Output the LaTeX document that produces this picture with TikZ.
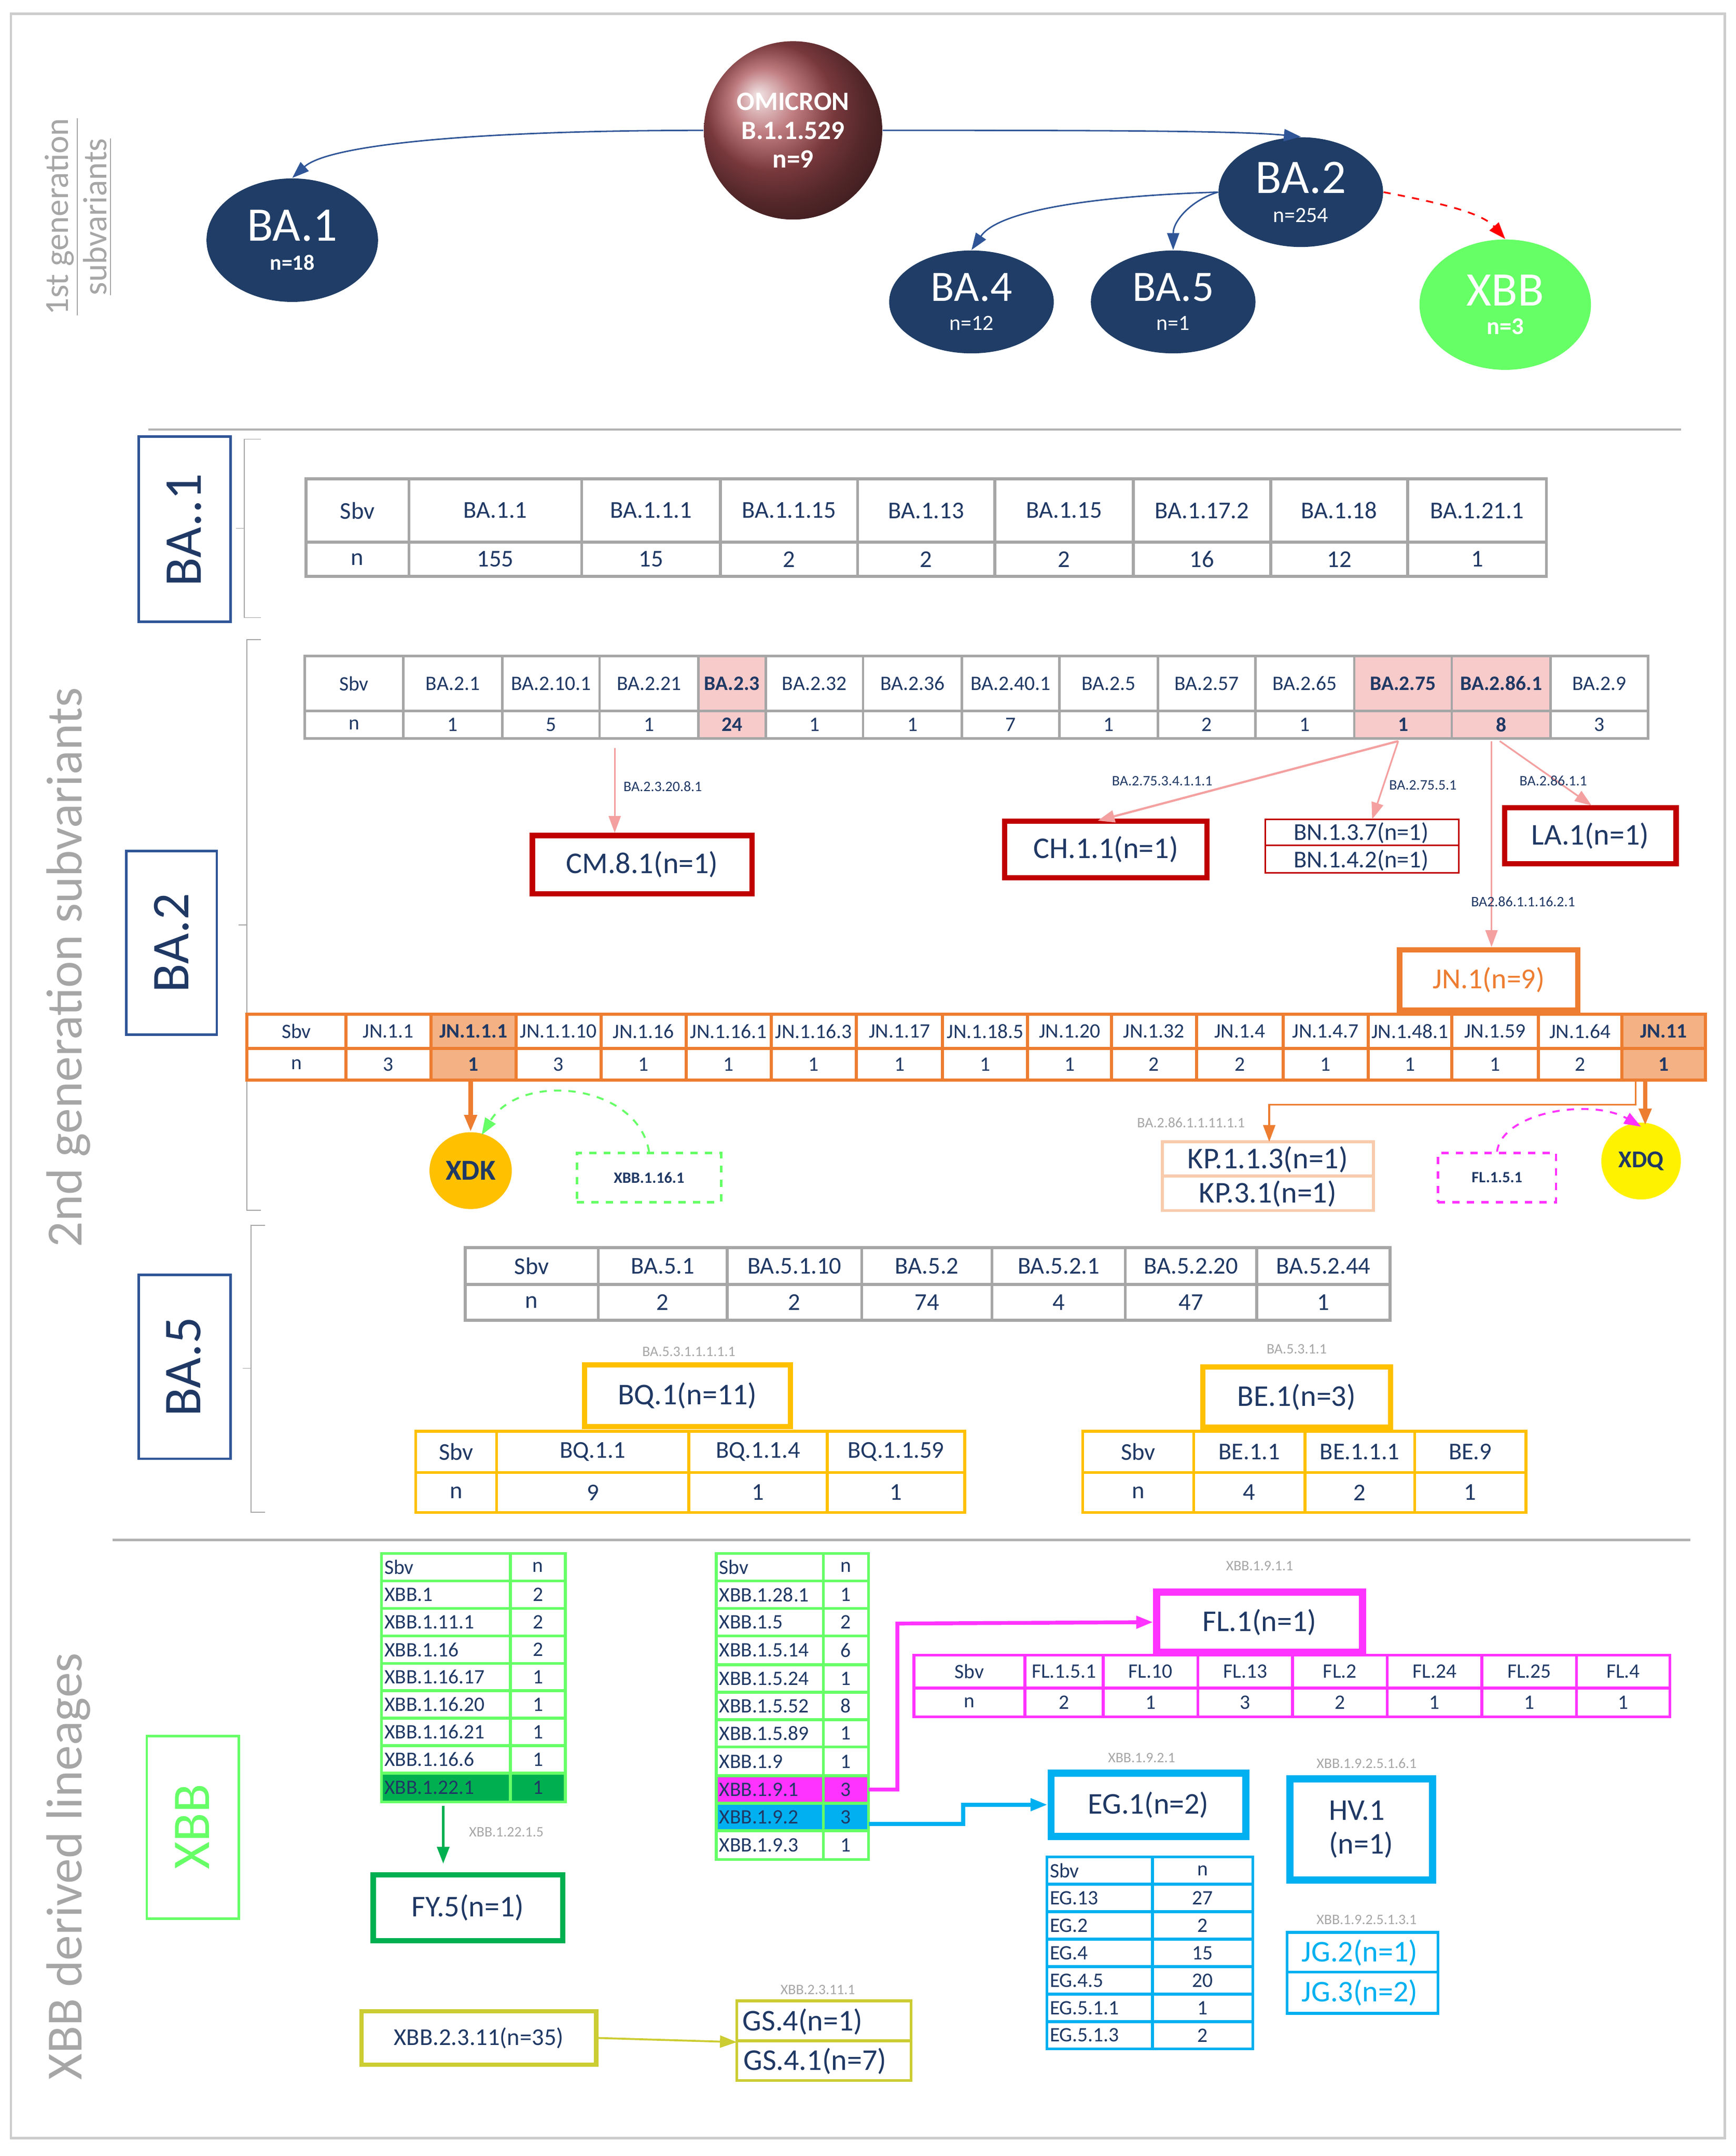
\documentclass[tikz,border=0pt]{standalone}
\usepackage{fontspec}
\setmainfont{Carlito}
\usetikzlibrary{arrows.meta,shapes.geometric,calc}
\definecolor{navy}{HTML}{1F3864}
\definecolor{dnavy}{HTML}{1F3D66}
\definecolor{bbox}{HTML}{2F5597}
\definecolor{dred}{HTML}{C00000}
\definecolor{lred}{HTML}{F4A0A0}
\definecolor{pinkc}{HTML}{F8CBCB}
\definecolor{orng}{HTML}{ED7D31}
\definecolor{lorng}{HTML}{F4B183}
\definecolor{porng}{HTML}{F8CBAD}
\definecolor{gold}{HTML}{FFC000}
\definecolor{lgreen}{HTML}{66FF66}
\definecolor{dgreen}{HTML}{00B050}
\definecolor{mag}{HTML}{FF33FF}
\definecolor{cyan2}{HTML}{00B0F0}
\definecolor{olive2}{HTML}{CCCC33}
\definecolor{gtxt}{HTML}{A6A6A6}
\newcommand\hrowx[6]{\foreach \xl/\xr/\tx/\fc [count=\i] in {#5}{\draw[#3,fill=\fc] (\xl,#1) rectangle (\xr,#2); \node[#4] (#6\i) at ({(\xl+\xr)/2},{(#1+#2)/2}) {\tx};}}
\newcommand\vtabx[6]{\foreach \ya/\yb/\ta/\tb/\fc [count=\i] in {#5}{\draw[#4,fill=\fc] (#1,\ya) rectangle (#2,\yb); \draw[#4,fill=\fc] (#2,\ya) rectangle (#3,\yb); \node[cellt,anchor=west] (#6a\i) at (#1,{(\ya+\yb)/2}) {\ta}; \node[cellt] (#6b\i) at ({(#2+#3)/2},{(\ya+\yb)/2}) {\tb};}}
\begin{document}
\begin{tikzpicture}[x=0.02cm,y=-0.02cm,
 cellt/.style={text=navy,font=\fontsize{8.5}{9}\selectfont,inner sep=1pt},
 cellm/.style={text=navy,font=\fontsize{10}{11}\selectfont,inner sep=1pt},
 big/.style={text=navy,font=\fontsize{12.5}{14}\selectfont},
 tiny/.style={text=gtxt,font=\fontsize{6}{7}\selectfont,inner sep=1pt},
 tinyn/.style={text=navy,font=\fontsize{6}{7}\selectfont,inner sep=1pt},
 ell/.style={ellipse,fill=dnavy,text=white,align=center,inner sep=0pt},
 side/.style={text=gtxt,rotate=90,align=center},
 arr/.style={-{Triangle[length=7pt,width=5pt]}},
 bx/.style={draw,line width=2.2pt}]
\useasboundingbox (0,0) rectangle (1265,1571);
\draw[gray!40,line width=1pt] (8,10) rectangle (1257,1558);
% side labels
\node[side,font=\fontsize{14}{15}\selectfont] (s1) at (57,158) {\underline{1st generation}\\[1pt]\underline{subvariants}};
\node[side,font=\fontsize{21}{22}\selectfont] (s2) at (50,705) {2nd generation subvariants};
\node[side,font=\fontsize{21}{22}\selectfont] (s3) at (50,1360) {XBB derived lineages};
\draw[gray!60,line width=1pt] (108,313) -- (1225,313);
\draw[gray!60,line width=1pt] (82,1122) -- (1232,1122);
% top
\node[circle,minimum size=2.6cm,shading=ball,ball color={rgb,255:red,170;green,80;blue,85},text=white,align=center,font=\bfseries\fontsize{11}{12}\selectfont] (om) at (578,95) {OMICRON\\B.1.1.529\\n=9};
\node[ell,minimum width=2.5cm,minimum height=1.8cm] (ba1) at (213,175) {\fontsize{20}{22}\selectfont BA.1\\\bfseries\fontsize{9}{10}\selectfont n=18};
\node[ell,minimum width=2.4cm,minimum height=1.6cm] (ba2) at (948,140) {\fontsize{20}{22}\selectfont BA.2\\\fontsize{9}{10}\selectfont n=254};
\node[ell,minimum width=2.4cm,minimum height=1.5cm] (ba4) at (708,220) {\fontsize{18}{20}\selectfont BA.4\\\fontsize{9}{10}\selectfont n=12};
\node[ell,minimum width=2.4cm,minimum height=1.5cm] (ba5) at (855,220) {\fontsize{18}{20}\selectfont BA.5\\\fontsize{9}{10}\selectfont n=1};
\node[ell,fill=lgreen,minimum width=2.5cm,minimum height=1.9cm] (xbb) at (1097,222) {\fontsize{20}{22}\selectfont XBB\\\bfseries\fontsize{10}{12}\selectfont n=3};
\draw[arr,bbox,line width=0.6pt] (om.west) .. controls (350,95) and (240,105) .. (ba1.north);
\draw[arr,bbox,line width=0.6pt] (om.east) .. controls (780,95) and (900,95) .. (ba2.north);
\draw[arr,bbox,line width=0.6pt] (ba2.west) .. controls (820,142) and (730,150) .. (ba4.north);
\draw[arr,bbox,line width=0.6pt] (ba2.west) .. controls (870,145) and (855,160) .. (ba5.north);
\draw[arr,red,dashed,line width=0.7pt] (ba2.east) .. controls (1050,148) and (1080,155) .. (xbb.north);
% brackets and labels
\draw[gray!70] (190,320) -- (178,320) -- (178,450) -- (190,450) (178,385) -- (172,385);
\draw[gray!70] (190,466) -- (180,466) -- (180,882) -- (190,882) (180,674) -- (174,674);
\draw[gray!70] (193,893) -- (183,893) -- (183,1102) -- (193,1102) (183,997) -- (177,997);
\draw[bbox,line width=1pt] (101,318) rectangle (168,453);
\node[rotate=90,text=navy,font=\fontsize{22}{22}\selectfont] (l1) at (134,386) {BA..1};
\draw[bbox,line width=1pt] (92,620) rectangle (158,754);
\node[rotate=90,text=navy,font=\fontsize{22}{22}\selectfont] (l2) at (125,687) {BA.2};
\draw[bbox,line width=1pt] (101,929) rectangle (168,1063);
\node[rotate=90,text=navy,font=\fontsize{22}{22}\selectfont] (l3) at (134,996) {BA.5};
\draw[lgreen,line width=1pt] (107,1265) rectangle (174,1398);
\node[rotate=90,text=lgreen,font=\fontsize{22}{22}\selectfont] (l4) at (140,1331) {XBB};
% BA.1 table
\hrowx{349}{395}{gray!70,line width=1.2pt}{cellm}{223/298/Sbv/white,298/424/BA.1.1/white,424/525/BA.1.1.1/white,525/625/BA.1.1.15/white,625/725/BA.1.13/white,725/826/BA.1.15/white,826/926/BA.1.17.2/white,926/1026/BA.1.18/white,1026/1127/BA.1.21.1/white}{a}
\hrowx{395}{420}{gray!70,line width=1.2pt}{cellm}{223/298/n/white,298/424/155/white,424/525/15/white,525/625/2/white,625/725/2/white,725/826/2/white,826/926/16/white,926/1026/12/white,1026/1127/1/white}{b}
% BA.2 table
\hrowx{478}{518}{gray!70,line width=1pt}{cellt}{222/294/Sbv/white,294/366/BA.2.1/white,366/437/BA.2.10.1/white,437/509/BA.2.21/white,509/558/{\textbf{BA.2.3}}/pinkc,558/629/BA.2.32/white,629/701/BA.2.36/white,701/772/BA.2.40.1/white,772/844/BA.2.5/white,844/915/BA.2.57/white,915/987/BA.2.65/white,987/1058/{\textbf{BA.2.75}}/pinkc,1058/1130/{\textbf{BA.2.86.1}}/pinkc,1130/1201/BA.2.9/white}{c}
\hrowx{518}{538}{gray!70,line width=1pt}{cellt}{222/294/n/white,294/366/1/white,366/437/5/white,437/509/1/white,509/558/{\textbf{24}}/pinkc,558/629/1/white,629/701/1/white,701/772/7/white,772/844/1/white,844/915/2/white,915/987/1/white,987/1058/{\textbf{1}}/pinkc,1058/1130/{\textbf{8}}/pinkc,1130/1201/3/white}{d}
\node[bx,draw=dred,big,minimum width=3.2cm,minimum height=0.85cm] (cm) at (468,630) {CM.8.1(n=1)};
\node[bx,draw=dred,big,minimum width=2.95cm,minimum height=0.82cm] (ch) at (806,619) {CH.1.1(n=1)};
\node[bx,draw=dred,big,minimum width=2.5cm,minimum height=0.82cm] (la) at (1159,609) {LA.1(n=1)};
\draw[dred,line width=0.6pt] (922,597) rectangle (1063,636) (922,616) -- (1063,616);
\node[cellm] (bn1) at (992,607) {BN.1.3.7(n=1)};
\node[cellm] (bn2) at (992,627) {BN.1.4.2(n=1)};
\draw[arr,lred,line width=0.7pt] (448,545) -- (cm.north -| 448,0);
\node[tinyn] (t1) at (483,573) {BA.2.3.20.8.1};
\draw[arr,lred,line width=0.9pt] (1019,540) -- (800,598);
\node[tinyn] (t2) at (847,569) {BA.2.75.3.4.1.1.1};
\draw[arr,lred,line width=0.7pt] (1019,540) -- (1000,597);
\node[tinyn] (t3) at (1037,572) {BA.2.75.5.1};
\draw[arr,lred,line width=0.7pt] (1093,540) -- (1160,587);
\node[tinyn] (t4) at (1132,569) {BA.2.86.1.1};
\node[bx,draw=orng,text=orng,font=\fontsize{12}{13}\selectfont,minimum width=2.6cm,minimum height=0.88cm] (jn) at (1085,714) {JN.1(n=9)};
\draw[arr,lred,line width=0.7pt] (1087,540) -- (jn.north -| 1087,0);
\node[tinyn] (t5) at (1110,657) {BA2.86.1.1.16.2.1};
% JN table
\hrowx{739}{764}{orng,line width=1.3pt}{cellt}{180/252/Sbv/white,252/314/JN.1.1/white,314/376/{\textbf{JN.1.1.1}}/lorng,376/438/JN.1.1.10/white,438/500/JN.1.16/white,500/562/JN.1.16.1/white,562/624/JN.1.16.3/white,624/687/JN.1.17/white,687/749/JN.1.18.5/white,749/810/JN.1.20/white,810/872/JN.1.32/white,872/935/JN.1.4/white,935/997/JN.1.4.7/white,997/1058/JN.1.48.1/white,1058/1121/JN.1.59/white,1121/1182/JN.1.64/white,1182/1243/{\textbf{JN.11}}/lorng}{e}
\hrowx{764}{787}{orng,line width=1.3pt}{cellt}{180/252/n/white,252/314/3/white,314/376/{\textbf{1}}/lorng,376/438/3/white,438/500/1/white,500/562/1/white,562/624/1/white,624/687/1/white,687/749/1/white,749/810/1/white,810/872/2/white,872/935/2/white,935/997/1/white,997/1058/1/white,1058/1121/1/white,1121/1182/2/white,1182/1243/{\textbf{1}}/lorng}{f}
\node[ellipse,fill=gold,text=navy,font=\bfseries\fontsize{12}{12}\selectfont,minimum width=1.2cm,minimum height=1.12cm,inner sep=0pt] (xdk) at (343,853) {XDK};
\node[ellipse,fill=yellow,text=navy,font=\bfseries\fontsize{10}{10}\selectfont,minimum width=1.16cm,minimum height=1.12cm,inner sep=0pt] (xdq) at (1196,846) {XDQ};
\draw[arr,orng,line width=1.8pt] (343,787) -- (xdk.north);
\draw[arr,orng,line width=1.8pt] (1199,787) -- (1199,820);
\node[draw=lgreen,dashed,line width=1pt,tinyn,font=\bfseries\fontsize{6.5}{7}\selectfont,minimum width=2.1cm,minimum height=0.72cm] (x1161) at (473,858) {XBB.1.16.1};
\draw[arr,lgreen,dashed,line width=0.8pt] (x1161.north) .. controls (465,790) and (380,780) .. (351,827);
\node[draw=mag,dashed,line width=1pt,tinyn,font=\bfseries\fontsize{6.5}{7}\selectfont,minimum width=1.72cm,minimum height=0.72cm] (fl151) at (1091,858) {FL.1.5.1};
\draw[arr,mag,dashed,line width=0.8pt] (fl151.north) .. controls (1095,810) and (1160,800) .. (1196,821);
\draw[porng,line width=1.2pt] (847,832) rectangle (1001,882) (847,857) -- (1001,857);
\node[big] (kp1) at (924,845) {KP.1.1.3(n=1)};
\node[big] (kp2) at (924,870) {KP.3.1(n=1)};
\coordinate (kpc) at (1192,787);
\draw[arr,orng,line width=0.8pt] (kpc) -- (1192,805) -- (925,805) -- (925,832);
\node[tiny] (t6) at (868,818) {BA.2.86.1.1.11.1.1};
% BA.5 table
\hrowx{909}{936}{gray!70,line width=1.2pt}{cellm}{339/436/Sbv/white,436/530/BA.5.1/white,530/628/BA.5.1.10/white,628/723/BA.5.2/white,723/820/BA.5.2.1/white,820/916/BA.5.2.20/white,916/1013/BA.5.2.44/white}{g}
\hrowx{936}{962}{gray!70,line width=1.2pt}{cellm}{339/436/n/white,436/530/2/white,530/628/2/white,628/723/74/white,723/820/4/white,820/916/47/white,916/1013/1/white}{h}
\node[tiny] (t7) at (502,985) {BA.5.3.1.1.1.1.1};
\node[bx,draw=gold,big,minimum width=3cm,minimum height=0.9cm] (bq) at (501,1017) {BQ.1(n=11)};
\hrowx{1043}{1073}{gold,line width=1.2pt}{cellm}{303/362/Sbv/white,362/502/BQ.1.1/white,502/603/BQ.1.1.4/white,603/703/BQ.1.1.59/white}{i}
\hrowx{1073}{1102}{gold,line width=1.2pt}{cellm}{303/362/n/white,362/502/9/white,502/603/1/white,603/703/1/white}{j}
\node[tiny] (t8) at (945,983) {BA.5.3.1.1};
\node[bx,draw=gold,big,minimum width=2.74cm,minimum height=0.88cm] (be) at (945,1018) {BE.1(n=3)};
\hrowx{1043}{1073}{gold,line width=1.2pt}{cellm}{789/870/Sbv/white,870/951/BE.1.1/white,951/1031/BE.1.1.1/white,1031/1112/BE.9/white}{k}
\hrowx{1073}{1102}{gold,line width=1.2pt}{cellm}{789/870/n/white,870/951/4/white,951/1031/2/white,1031/1112/1/white}{l}
% XBB tables
\vtabx{278}{372}{412}{lgreen,line width=1.2pt}{1132/1152/Sbv/n/white,1152/1172/XBB.1/2/white,1172/1192/XBB.1.11.1/2/white,1192/1212/XBB.1.16/2/white,1212/1232/XBB.1.16.17/1/white,1232/1252/XBB.1.16.20/1/white,1252/1272/XBB.1.16.21/1/white,1272/1292/XBB.1.16.6/1/white,1292/1313/XBB.1.22.1/1/dgreen}{m}
\draw[arr,dgreen,line width=1.2pt] (323,1316) -- (323,1358);
\node[tiny] (t9) at (369,1335) {XBB.1.22.1.5};
\node[bx,draw=dgreen,big,minimum width=2.76cm,minimum height=0.96cm] (fy) at (341,1390) {FY.5(n=1)};
\vtabx{522}{600}{633}{lgreen,line width=1.2pt}{1132/1152/Sbv/n/white,1152/1172/XBB.1.28.1/1/white,1172/1192/XBB.1.5/2/white,1192/1213/XBB.1.5.14/6/white,1213/1233/XBB.1.5.24/1/white,1233/1253/XBB.1.5.52/8/white,1253/1273/XBB.1.5.89/1/white,1273/1294/XBB.1.9/1/white,1294/1314/XBB.1.9.1/3/mag,1314/1334/XBB.1.9.2/3/cyan2,1334/1355/XBB.1.9.3/1/white}{o}
\node[tiny] (t10) at (918,1141) {XBB.1.9.1.1};
\node[bx,draw=mag,line width=3pt,big,minimum width=3cm,minimum height=0.88cm] (fl) at (918,1182) {FL.1(n=1)};
\draw[arr,mag,line width=1.6pt] (633,1304) -- (654,1304) -- (654,1183) -- (fl.west);
\hrowx{1206}{1230}{mag,line width=1.2pt}{cellt}{666/747/Sbv/white,747/804/FL.1.5.1/white,804/873/FL.10/white,873/942/FL.13/white,942/1011/FL.2/white,1011/1080/FL.24/white,1080/1149/FL.25/white,1149/1217/FL.4/white}{p}
\hrowx{1230}{1251}{mag,line width=1.2pt}{cellt}{666/747/n/white,747/804/2/white,804/873/1/white,873/942/3/white,942/1011/2/white,1011/1080/1/white,1080/1149/1/white,1149/1217/1/white}{q}
\node[tiny] (t11) at (832,1281) {XBB.1.9.2.1};
\node[bx,draw=cyan2,line width=3pt,big,minimum width=2.84cm,minimum height=0.92cm] (eg) at (837,1315) {EG.1(n=2)};
\draw[arr,cyan2,line width=1.6pt] (633,1329) -- (702,1329) -- (702,1315) -- (eg.west);
\vtabx{763}{840}{913}{cyan2,line width=1.2pt}{1353/1373/Sbv/n/white,1373/1393/EG.13/27/white,1393/1413/EG.2/2/white,1413/1433/EG.4/15/white,1433/1453/EG.4.5/20/white,1453/1473/EG.5.1.1/1/white,1473/1493/EG.5.1.3/2/white}{r}
\node[tiny] (t12) at (996,1285) {XBB.1.9.2.5.1.6.1};
\node[bx,draw=cyan2,line width=3pt,big,align=left,minimum width=2.08cm,minimum height=1.48cm] (hv) at (992,1333) {HV.1\\(n=1)};
\node[tiny] (t13) at (996,1399) {XBB.1.9.2.5.1.3.1};
\draw[cyan2,line width=1.2pt] (938,1408) rectangle (1048,1467) (938,1437) -- (1048,1437);
\node[text=cyan2,font=\fontsize{12.5}{13}\selectfont] (jg1) at (991,1423) {JG.2(n=1)};
\node[text=cyan2,font=\fontsize{12.5}{13}\selectfont] (jg2) at (991,1452) {JG.3(n=2)};
\node[draw=olive2,line width=1.8pt,cellm,minimum width=3.42cm,minimum height=0.78cm] (x23) at (349,1485) {XBB.2.3.11(n=35)};
\node[tiny] (t14) at (596,1450) {XBB.2.3.11.1};
\draw[olive2,line width=1.2pt] (537,1458) rectangle (664,1516) (537,1487) -- (664,1487);
\node[big] (gs1) at (585,1473) {GS.4(n=1)};
\node[big] (gs2) at (594,1502) {GS.4.1(n=7)};
\coordinate (gsin) at (537,1488);
\draw[arr,olive2,line width=0.8pt] (x23.east) -- (gsin);
\end{tikzpicture}
\end{document}
